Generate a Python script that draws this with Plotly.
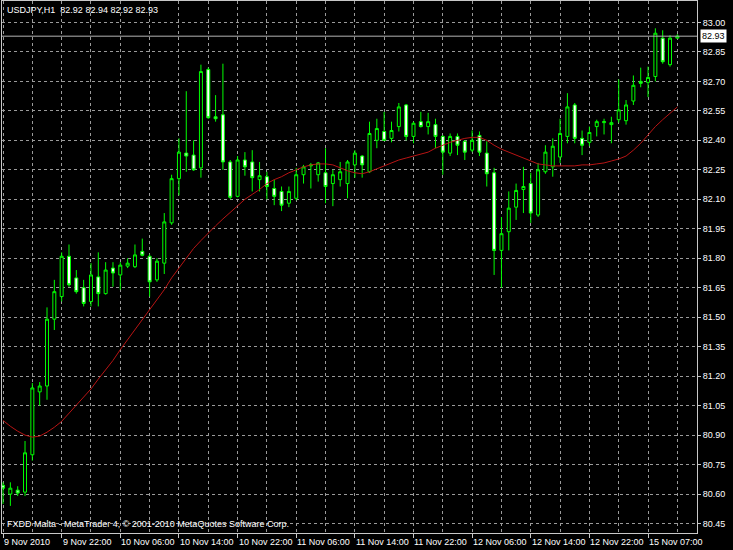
import plotly.graph_objects as go

# ---- data ----
open_ = [80.645, 80.60, 80.62, 80.61, 80.80, 81.12, 81.15, 81.49, 81.605, 81.81,
         81.70, 81.65, 81.58, 81.705, 81.62, 81.75, 81.715, 81.76, 81.757, 81.835,
         81.81, 81.69, 81.775, 81.98, 82.205, 82.335, 82.325, 82.26, 82.76, 82.52,
         82.53, 82.29, 82.115, 82.30, 82.29, 82.20, 82.215, 82.155, 82.14, 82.08,
         82.105, 82.225, 82.27, 82.225, 82.235, 82.18, 82.20, 82.18, 82.275, 82.32,
         82.24, 82.40, 82.445, 82.41, 82.47, 82.58, 82.42, 82.495, 82.47, 82.48,
         82.42, 82.335, 82.42, 82.395, 82.35, 82.425, 82.335, 82.235, 81.84, 81.935,
         82.06, 82.15, 82.18, 82.02, 82.24, 82.265, 82.315, 82.42, 82.58, 82.41,
         82.39, 82.47, 82.49, 82.48, 82.505, 82.50, 82.60, 82.70, 82.695, 82.725,
         82.92, 82.785, 82.92]
high = [80.66, 80.66, 80.64, 80.87, 81.165, 81.17, 81.55, 81.69, 81.83, 81.87,
        81.74, 81.69, 81.775, 81.83, 81.78, 81.78, 81.78, 81.80, 81.87, 81.90,
        81.82, 81.80, 82.03, 82.225, 82.41, 82.65, 82.40, 82.785, 82.77, 82.63,
        82.79, 82.30, 82.32, 82.34, 82.35, 82.29, 82.24, 82.20, 82.165, 82.165,
        82.26, 82.275, 82.285, 82.29, 82.36, 82.25, 82.29, 82.30, 82.35, 82.325,
        82.495, 82.51, 82.545, 82.495, 82.59, 82.585, 82.495, 82.545, 82.54, 82.51,
        82.425, 82.435, 82.435, 82.40, 82.45, 82.445, 82.395, 82.26, 82.01, 82.14,
        82.18, 82.265, 82.235, 82.285, 82.375, 82.41, 82.51, 82.64, 82.59, 82.45,
        82.47, 82.505, 82.51, 82.52, 82.71, 82.605, 82.73, 82.77, 82.775, 82.97,
        82.96, 82.935, 82.94]
low = [80.55, 80.54, 80.59, 80.59, 80.77, 81.05, 81.08, 81.435, 81.58, 81.655,
       81.62, 81.555, 81.555, 81.555, 81.615, 81.655, 81.64, 81.75, 81.75, 81.81,
       81.605, 81.68, 81.72, 81.97, 82.12, 82.24, 82.245, 82.21, 82.51, 82.495,
       82.25, 82.10, 82.11, 82.22, 82.14, 82.14, 82.10, 82.07, 82.04, 82.06,
       82.095, 82.18, 82.155, 82.19, 82.08, 82.065, 82.165, 82.105, 82.21, 82.21,
       82.235, 82.36, 82.40, 82.39, 82.445, 82.40, 82.385, 82.465, 82.43, 82.36,
       82.225, 82.32, 82.325, 82.30, 82.34, 82.32, 82.165, 81.715, 81.65, 81.84,
       81.995, 82.03, 81.98, 82.01, 82.23, 82.215, 82.285, 82.385, 82.385, 82.325,
       82.37, 82.42, 82.43, 82.385, 82.49, 82.48, 82.58, 82.67, 82.62, 82.70,
       82.79, 82.775, 82.92]
close = [80.63, 80.63, 80.605, 80.81, 81.14, 81.15, 81.49, 81.63, 81.81, 81.665,
         81.63, 81.57, 81.715, 81.62, 81.74, 81.725, 81.765, 81.775, 81.817, 81.815,
         81.68, 81.785, 81.985, 82.205, 82.34, 82.32, 82.25, 82.75, 82.515, 82.51,
         82.29, 82.11, 82.30, 82.265, 82.21, 82.22, 82.165, 82.115, 82.07, 82.14,
         82.225, 82.265, 82.275, 82.285, 82.165, 82.225, 82.24, 82.29, 82.335, 82.275,
         82.435, 82.46, 82.40, 82.45, 82.57, 82.42, 82.487, 82.47, 82.495, 82.42,
         82.34, 82.42, 82.375, 82.34, 82.40, 82.34, 82.23, 81.84, 81.925, 82.055,
         82.145, 82.165, 82.03, 82.25, 82.34, 82.37, 82.435, 82.57, 82.41, 82.375,
         82.44, 82.495, 82.495, 82.49, 82.555, 82.58, 82.68, 82.69, 82.72, 82.945,
         82.80, 82.92, 82.93]
moving_avg = [80.975, 80.945, 80.92, 80.90, 80.89, 80.895, 80.915, 80.94, 80.97, 81.01,
              81.05, 81.09, 81.135, 81.185, 81.23, 81.28, 81.335, 81.385, 81.435, 81.485,
              81.535, 81.585, 81.64, 81.70, 81.75, 81.80, 81.85, 81.89, 81.93, 81.965,
              82.00, 82.035, 82.07, 82.10, 82.125, 82.15, 82.18, 82.20, 82.215, 82.235,
              82.25, 82.265, 82.275, 82.28, 82.28, 82.275, 82.26, 82.245, 82.235, 82.23,
              82.24, 82.255, 82.27, 82.285, 82.30, 82.31, 82.32, 82.33, 82.34, 82.36,
              82.375, 82.39, 82.40, 82.41, 82.415, 82.415, 82.40, 82.375, 82.355, 82.34,
              82.325, 82.31, 82.295, 82.28, 82.275, 82.27, 82.27, 82.27, 82.27, 82.275,
              82.275, 82.28, 82.285, 82.295, 82.305, 82.32, 82.35, 82.385, 82.43, 82.47,
              82.505, 82.54, 82.57]
time_label_bars = [0, 8, 16, 24, 32, 40, 48, 56, 64, 72, 80, 88]
time_labels = ["9 Nov 2010", "9 Nov 22:00", "10 Nov 06:00", "10 Nov 14:00",
               "10 Nov 22:00", "11 Nov 06:00", "11 Nov 14:00", "11 Nov 22:00",
               "12 Nov 06:00", "12 Nov 14:00", "12 Nov 22:00", "15 Nov 07:00"]
price_ticks = [83.00, 82.85, 82.70, 82.55, 82.40, 82.25, 82.10, 81.95, 81.80,
               81.65, 81.50, 81.35, 81.20, 81.05, 80.90, 80.75, 80.60, 80.45]
symbol = "USDJPY,H1"
last_bar = (82.92, 82.94, 82.92, 82.93)
footer = "FXDD Malta - MetaTrader 4, © 2001-2010 MetaQuotes Software Corp."

bars = list(range(len(close)))
FONT = "Liberation Sans"
GRID = "#9a9a9a"

fig = go.Figure()
fig.add_trace(go.Candlestick(
    x=bars, open=open_, high=high, low=low, close=close,
    increasing=dict(line=dict(color="#00ff00", width=1), fillcolor="#000000"),
    decreasing=dict(line=dict(color="#00ff00", width=1), fillcolor="#ffffff"),
    whiskerwidth=0, showlegend=False, hoverinfo="skip"))
fig.add_trace(go.Scatter(
    x=bars, y=moving_avg, mode="lines",
    line=dict(color="#b81414", width=1), showlegend=False, hoverinfo="skip"))

# current bid line
fig.add_shape(type="line", xref="paper", x0=0, x1=1, yref="y",
              y0=last_bar[3], y1=last_bar[3],
              line=dict(color="#b4b4b4", width=1))

annotations = []
for b, t in zip(time_label_bars, time_labels):
    annotations.append(dict(x=b, xref="x", y=0, yref="paper", text=t,
                            xanchor="left", yanchor="top", yshift=-2, xshift=-1,
                            showarrow=False, font=dict(family=FONT, size=9, color="#ffffff")))
annotations.append(dict(x=0, xref="paper", y=1, yref="paper",
                        text=symbol + "  " + " ".join(f"{v:.2f}" for v in last_bar),
                        xanchor="left", yanchor="top", xshift=3, yshift=-2,
                        showarrow=False, font=dict(family=FONT, size=9, color="#ffffff")))
annotations.append(dict(x=0, xref="paper", y=0, yref="paper", text=footer,
                        xanchor="left", yanchor="bottom", xshift=3, yshift=2,
                        showarrow=False, font=dict(family=FONT, size=9, color="#ffffff")))
annotations.append(dict(x=1, xref="paper", y=last_bar[3], yref="y",
                        text=f"{last_bar[3]:.2f}", xanchor="left", yanchor="middle",
                        xshift=3, showarrow=False, bgcolor="#ffffff", borderpad=1,
                        font=dict(family=FONT, size=9, color="#000000")))

fig.update_layout(
    width=733, height=550,
    margin=dict(l=2, r=36, t=1, b=17),
    paper_bgcolor="#000000", plot_bgcolor="#000000",
    boxgap=0.42,
    annotations=annotations,
    xaxis=dict(range=[-0.14, 94.68], rangeslider=dict(visible=False),
               tickmode="array", tickvals=time_label_bars, showticklabels=False,
               ticks="outside", ticklen=4, tickcolor="#c8c8c8",
               showgrid=True, gridcolor=GRID, griddash="3px,3px", gridwidth=1,
               minor=dict(tick0=0, dtick=4, showgrid=True, gridcolor=GRID,
                          griddash="3px,3px", gridwidth=1),
               showline=True, linecolor="#c8c8c8", linewidth=1, mirror=True,
               zeroline=False),
    yaxis=dict(range=[80.402, 83.109], side="right",
               tickmode="array", tickvals=price_ticks,
               ticktext=[f"{v:.2f}" for v in price_ticks],
               ticks="outside", ticklen=3, tickcolor="#c8c8c8",
               tickfont=dict(family=FONT, size=9, color="#ffffff"),
               showgrid=True, gridcolor=GRID, griddash="3px,3px", gridwidth=1,
               showline=True, linecolor="#c8c8c8", linewidth=1, mirror=True,
               zeroline=False),
)

fig.write_html("out.html",
               config={"displayModeBar": False},
               post_script="document.body.style.margin='0px';"
                           "document.body.style.background='#000000';")
